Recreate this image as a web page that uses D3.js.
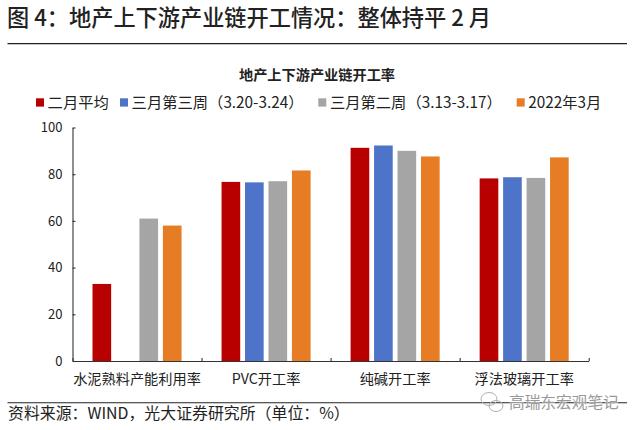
<!DOCTYPE html>
<html><head><meta charset="utf-8">
<script src="https://cdnjs.cloudflare.com/ajax/libs/d3/7.8.5/d3.min.js"></script>
<style>html,body{margin:0;background:#fff}svg{display:block}
text{font-family:"Noto Sans CJK SC","Noto Sans",sans-serif;fill:#222}</style></head>
<body><svg id="c" width="640" height="430"></svg>
<script>
const categories=["水泥熟料产能利用率","PVC开工率","纯碱开工率","浮法玻璃开工率"];
const seriesNames=["二月平均","三月第三周（3.20-3.24）","三月第二周（3.13-3.17）","2022年3月"];
const febAvg=[33,76.7,91.3,78.2];
const marWeek3=[null,76.5,92.3,78.7];
const marWeek2=[61,77,90,78.4];
const mar2022=[58,81.6,87.6,87.2];
const yTicks=[0,20,40,60,80,100];
const colors=["#b90000","#4d74c8","#a5a5a5","#e67c24"];
const pageTitle="图 4：地产上下游产业链开工情况：整体持平 2 月";
const chartTitle="地产上下游产业链开工率";
const sourceText="资料来源：WIND，光大证券研究所（单位：%）";
const watermark="高瑞东宏观笔记";
const legendX=[36,120,318.3,516.7];

const series=[febAvg,marWeek3,marWeek2,mar2022];
const svg=d3.select("#c");
const L=72.5,R=588.7,T=127.5,B=361;
const x0=d3.scaleBand().domain(categories).range([L,R]).paddingInner(.31).paddingOuter(.155);
const x1=d3.scaleBand().domain(d3.range(4)).range([0,x0.bandwidth()]).paddingInner(.205).paddingOuter(0);
const y=d3.scaleLinear().domain([0,100]).range([B,T]);

svg.append("text").attr("x",7).attr("y",25.5).attr("font-size",22.2).attr("font-weight",500).text(pageTitle);
svg.append("line").attr("x1",7.5).attr("x2",627).attr("y1",43.7).attr("y2",43.7).attr("stroke","#222").attr("stroke-width",1.3);
svg.append("text").attr("x",317).attr("y",80).attr("text-anchor","middle").attr("font-size",14.2).attr("font-weight",700).text(chartTitle);

const lg=svg.append("g");
seriesNames.forEach((n,i)=>{
  lg.append("rect").attr("x",legendX[i]).attr("y",98.3).attr("width",8).attr("height",8.3).attr("fill",colors[i]);
  lg.append("text").attr("x",legendX[i]+11.6).attr("y",107.5).attr("font-size",15.3).attr("fill","#333").text(n);
});

categories.forEach((c,ci)=>{
  series.forEach((s,si)=>{
    if(s[ci]==null)return;
    svg.append("rect").attr("x",x0(c)+x1(si)).attr("width",x1.bandwidth())
      .attr("y",y(s[ci])).attr("height",B-y(s[ci])).attr("fill",colors[si]);
  });
});

const ya=svg.append("g").attr("transform",`translate(${L},0)`)
  .call(d3.axisLeft(y).tickValues(yTicks).tickSizeInner(-3).tickSizeOuter(0).tickPadding(10));
const xEdge=d3.scaleLinear().domain([0,4]).range([L,R]);
const xa=svg.append("g").attr("transform",`translate(0,${B})`)
  .call(d3.axisBottom(xEdge).tickValues([0,1,2,3,4]).tickFormat("").tickSizeInner(-3).tickSizeOuter(0));
[ya,xa].forEach(g=>{g.selectAll("path,line").attr("stroke","#333").attr("stroke-width",1.1);});
ya.selectAll("text").attr("font-size",13).attr("fill","#333").style("font-family",'"Noto Sans CJK SC",sans-serif');
categories.forEach(c=>{
  svg.append("text").attr("x",x0(c)+x0.bandwidth()/2).attr("y",384).attr("text-anchor","middle")
    .attr("font-size",14.2).attr("fill","#333").text(c);
});

svg.append("line").attr("x1",7.5).attr("x2",627).attr("y1",402.7).attr("y2",402.7).attr("stroke","#222").attr("stroke-width",1.1);
svg.append("text").attr("x",8).attr("y",419).attr("font-size",15.9).attr("fill","#333").text(sourceText);

// watermark
const wm=svg.append("g").attr("fill","none").attr("stroke","#b0b0b0").attr("stroke-width",1);
wm.append("ellipse").attr("cx",489).attr("cy",399).attr("rx",8).attr("ry",6.5);
wm.append("ellipse").attr("cx",496).attr("cy",406).attr("rx",7).attr("ry",5.5);
svg.append("text").attr("x",509).attr("y",408).attr("font-size",15.7).style("fill","#999")
  .style("stroke","#fff").style("stroke-width",1.5).style("paint-order","stroke").attr("stroke-opacity",.6).text(watermark);
</script></body></html>
